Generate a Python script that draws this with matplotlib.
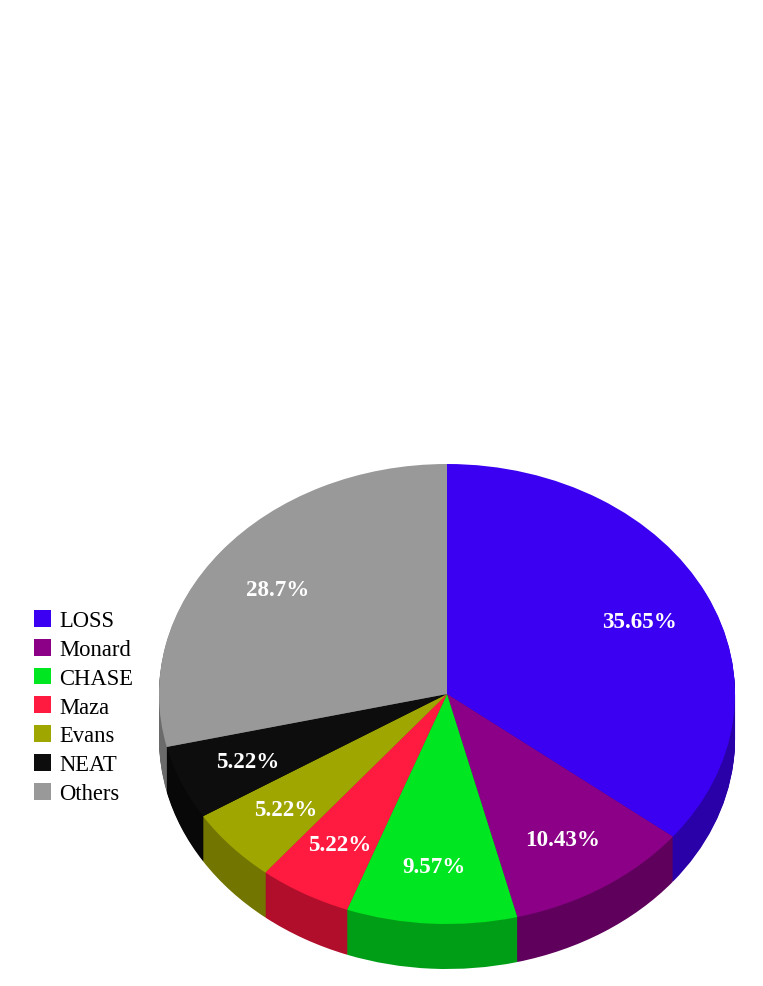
import matplotlib
matplotlib.use('Agg')
import matplotlib.pyplot as plt

plt.rcParams['font.family'] = ['Liberation Serif', 'DejaVu Serif']

names = ['LOSS', 'Monard', 'CHASE', 'Maza', 'Evans', 'NEAT', 'Others']
values = [35.65, 10.43, 9.57, 5.22, 5.22, 5.22, 28.7]
pct_labels = ['35.65%', '10.43%', '9.57%', '5.22%', '5.22%', '5.22%', '28.7%']
colors = ['#3b00f2', '#8b0087', '#00e620', '#ff1a40', '#a0a600', '#0d0d0d', '#999999']
side_colors = ['#2a00a8', '#5f005c', '#009e16', '#b00e2b', '#727600', '#080808', '#6b6b6b']

# pie centre and radii in pixels of the 763x987 picture
W, H = 763, 987
cx, cy = 447, 695
rx, ry = 288, 230
depth = 45

fig = plt.figure(figsize=(W / 100, H / 100), dpi=100)
ax = fig.add_axes([0, 0, 1, 1])

# side of the pie: darker copies stacked from the bottom upwards
for k in range(depth, 0, -1):
    ax.pie(values, colors=side_colors, startangle=90, counterclock=False,
           center=(0, -k / ry), normalize=True,
           wedgeprops={'linewidth': 0})

wedges, texts = ax.pie(values, colors=colors, startangle=90, counterclock=False,
                       labels=pct_labels, labeldistance=0.745,
                       normalize=True,
                       wedgeprops={'linewidth': 0},
                       textprops={'color': 'white', 'fontweight': 'bold', 'fontsize': 16.6})
for t in texts:
    t.set_ha('center')
    t.set_va('center')
    # small nudge, labels sit a bit low and left of the plain radial spot
    x, y = t.get_position()
    t.set_position((x - 1 / rx, y - 1.7 / ry))

ax.set_aspect('auto')
ax.set_xlim(-cx / rx, (W - cx) / rx)
ax.set_ylim((cy - H) / ry, cy / ry)
ax.axis('off')

ax.legend(wedges, names, loc='upper left', bbox_to_anchor=(33.5 / W, 1 - 611 / H),
          bbox_transform=fig.transFigure, frameon=False, fontsize=16.3,
          handlelength=0.77, handleheight=0.77, handletextpad=0.37,
          labelspacing=0.33, borderpad=0, borderaxespad=0, labelcolor='black')

fig.savefig('out.png', dpi=100)
